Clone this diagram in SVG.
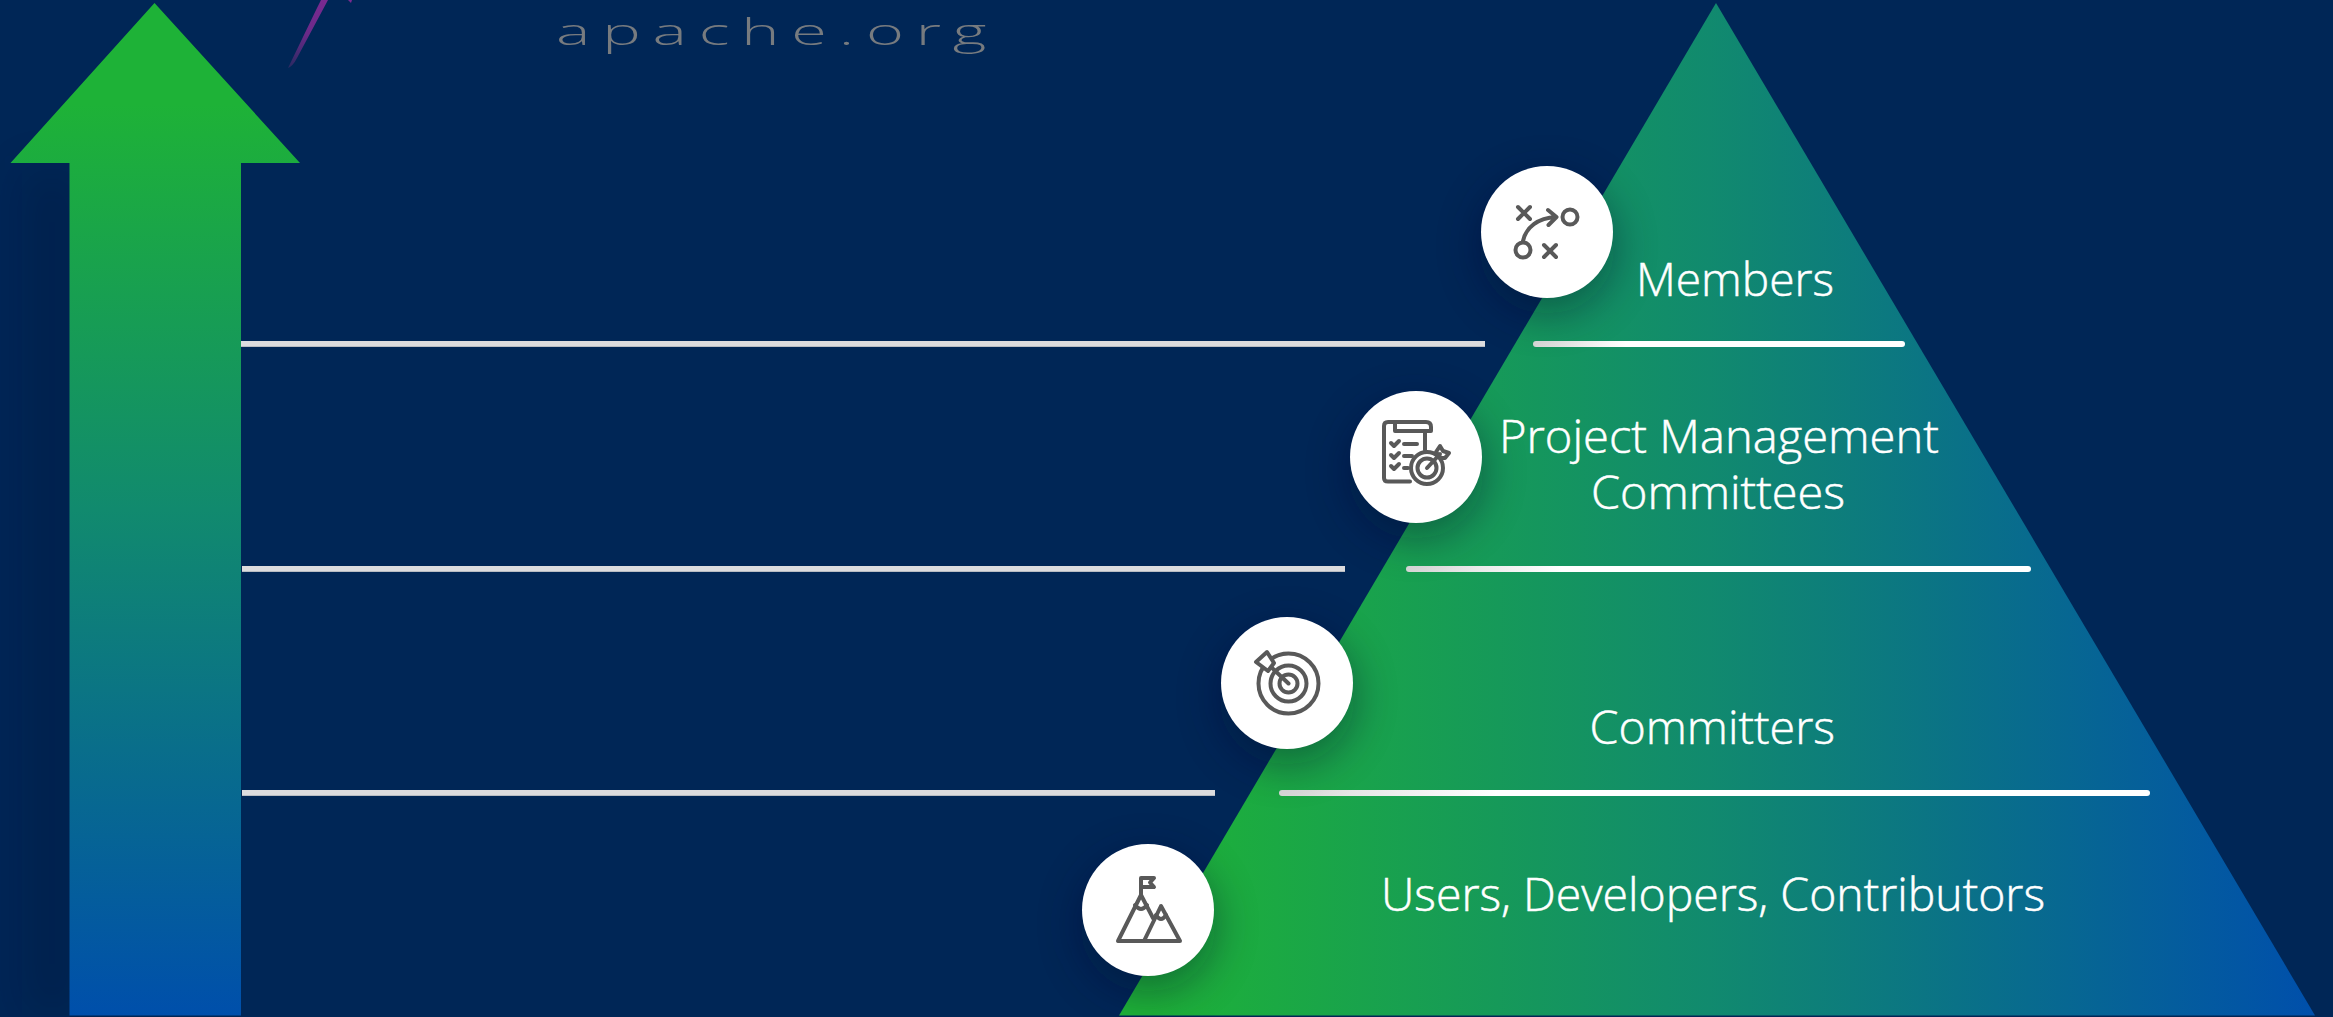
<svg xmlns="http://www.w3.org/2000/svg" width="2333" height="1017" viewBox="0 0 2333 1017">
<style>
.lbl{font-family:"Open Sans","Noto Sans","Liberation Sans",sans-serif;font-weight:300;font-size:46px;fill:#fff;stroke:#fff;stroke-width:.5px}
.ico{fill:none;stroke:#595959;stroke-width:4;stroke-linecap:round;stroke-linejoin:round}
.disc{fill:#fff}
.sh{fill:#00112e;opacity:.42;filter:url(#blur)}
.left{fill:url(#leftG)}
</style>
<defs>
<linearGradient id="arrowG" gradientUnits="userSpaceOnUse" x1="0" y1="3" x2="0" y2="1016">
<stop offset=".1" stop-color="#1eb237"/><stop offset=".5" stop-color="#118a6e"/><stop offset="1" stop-color="#004fab"/>
</linearGradient>
<linearGradient id="pyrG" gradientUnits="userSpaceOnUse" x1="1150" y1="0" x2="2315" y2="0">
<stop offset="0" stop-color="#1eb237"/><stop offset=".48" stop-color="#118a6e"/><stop offset="1" stop-color="#004fab"/>
</linearGradient>
<linearGradient id="lineG" gradientUnits="objectBoundingBox" x1="0" y1="0" x2="1" y2="0">
<stop offset="0" stop-color="#d9d9d9"/><stop offset=".25" stop-color="#fff"/>
</linearGradient>
<linearGradient id="leftG" gradientUnits="objectBoundingBox" x1="0" y1="0" x2="0" y2="1">
<stop offset=".82" stop-color="#dcdcde"/><stop offset=".84" stop-color="#b8bcc2"/>
</linearGradient>
<linearGradient id="streakG" gradientUnits="userSpaceOnUse" x1="325" y1="0" x2="290" y2="68">
<stop offset="0" stop-color="#7a2a90"/><stop offset=".5" stop-color="#6a2a88"/><stop offset="1" stop-color="#2a2a62"/>
</linearGradient>
<filter id="blur" x="-80%" y="-80%" width="260%" height="260%"><feGaussianBlur stdDeviation="22"/></filter>
</defs>
<rect width="2333" height="1017" fill="#002656"/>
<g id="logo-fragment">
<path d="M321 0L328 0L297 58Q293 66 288 68L317 8Z" fill="url(#streakG)"/>
<path d="M348 0L352 0L351 3Z" fill="#7a2a90"/>
<text transform="translate(556 45) scale(1.75 1)" textLength="246" style="font-family:'Open Sans','Noto Sans',sans-serif;font-weight:300;font-size:37px;fill:#777b7f">apache.org</text>
</g>
<g id="growth-arrow">
<rect x="22" y="170" width="60" height="846" fill="#00112e" opacity=".2" filter="url(#blur)"/>
<path d="M154.500 3L300 163H241V1015.500H69.500V163H10.500Z" fill="url(#arrowG)"/>
</g>
<g id="pyramid">
<path d="M1716 3L2315 1015.500H1119Z" fill="url(#pyrG)"/>
</g>
<g id="connectors">
<rect class="left" x="241" y="341" width="1244" height="6"/>
<rect class="left" x="242" y="566" width="1103" height="6"/>
<rect class="left" x="242" y="790" width="973" height="6"/>
<rect x="1533" y="341" width="372" height="6" rx="3" fill="url(#lineG)"/>
<rect x="1406" y="566" width="625" height="6" rx="3" fill="url(#lineG)"/>
<rect x="1279" y="790" width="871" height="6" rx="3" fill="url(#lineG)"/>
</g>
<g id="node-members">
<circle class="sh" cx="1547" cy="246" r="68"/>
<circle class="disc" cx="1547" cy="232" r="66"/>
<g class="ico">
<path d="M1518 207l12 12m0-12l-12 12M1544 245l12 12m0-12l-12 12"/>
<path d="M1523 241C1526 227 1538 218 1556 217M1548 210l8.500 7-8 8"/>
<circle cx="1570" cy="217" r="7.500"/>
<circle cx="1523" cy="250" r="7.500"/>
</g>
<text class="lbl" x="1636" y="296" textLength="198" lengthAdjust="spacingAndGlyphs">Members</text>
</g>
<g id="node-pmc">
<circle class="sh" cx="1416" cy="471" r="68"/>
<circle class="disc" cx="1416" cy="457" r="66"/>
<g class="ico">
<path d="M1410 481.500H1388Q1384 481.500 1384 478V426Q1384 422 1388 422H1426Q1431 422 1431 427V431H1395V422M1425 431V450"/>
<path d="M1391 443l3 3 5-5M1391 455l3 3 5-5M1391 466l3 3 5-5"/>
<path d="M1404 444H1417M1404 456H1412M1404 468H1408"/>
<circle cx="1427" cy="468" r="16" fill="#fff"/>
<circle cx="1427" cy="468" r="9.500"/>
<path d="M1427 468L1440 454M1436 452L1440 446 1443 451 1449 453 1445 458 1441 458Z"/>
</g>
<text class="lbl" x="1499" y="453" textLength="440" lengthAdjust="spacingAndGlyphs">Project Management</text>
<text class="lbl" x="1591" y="509" textLength="254" lengthAdjust="spacingAndGlyphs">Committees</text>
</g>
<g id="node-committers">
<circle class="sh" cx="1287" cy="697" r="68"/>
<circle class="disc" cx="1287" cy="683" r="66"/>
<g class="ico">
<circle cx="1288.500" cy="683.500" r="30"/>
<circle cx="1288.500" cy="683.500" r="18"/>
<circle cx="1288.500" cy="683.500" r="9"/>
<path d="M1288.500 683.500L1268 664"/>
<path d="M1256 662L1267 652 1274 663 1268 671Z" fill="#fff"/>
</g>
<text class="lbl" x="1589.500" y="744" textLength="245.500" lengthAdjust="spacingAndGlyphs">Committers</text>
</g>
<g id="node-users">
<circle class="sh" cx="1148" cy="924" r="68"/>
<circle class="disc" cx="1148" cy="910" r="66"/>
<g class="ico">
<path d="M1118 941H1180L1161 906 1144 941M1118 941L1141 895 1153 918"/>
<path d="M1141 895V878H1154L1150 882.500 1154 887H1141"/>
<path d="M1135 905Q1141 913 1147 905M1156 915Q1161 923 1166 915"/>
</g>
<text class="lbl" x="1381" y="911" textLength="664" lengthAdjust="spacingAndGlyphs">Users, Developers, Contributors</text>
</g>
</svg>
